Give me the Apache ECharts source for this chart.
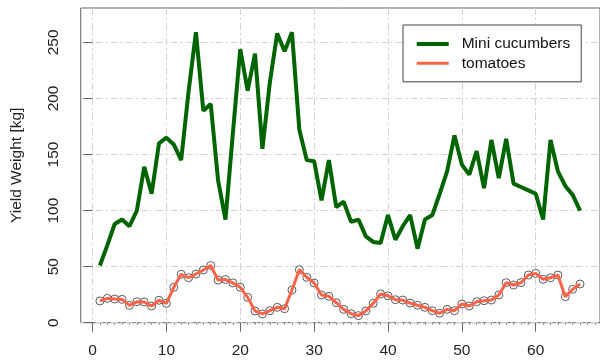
<!DOCTYPE html>
<html>
<head>
<meta charset="utf-8">
<script src="https://cdn.jsdelivr.net/npm/echarts@6/dist/echarts.min.js"></script>
<style>html,body{margin:0;padding:0;background:#fff;}#c{width:600px;height:361px;}</style>
</head>
<body>
<div id="c"></div>
<script>
const weeks = [1,2,3,4,5,6,7,8,9,10,11,12,13,14,15,16,17,18,19,20,21,22,23,24,25,26,27,28,29,30,31,32,33,34,35,36,37,38,39,40,41,42,43,44,45,46,47,48,49,50,51,52,53,54,55,56,57,58,59,60,61,62,63,64,65,66];
const cucumbers = [51,69,88,92,86,100,139,115,160,165,159,145,206,259,189,195,127,92,169,244,207,240,155,214,258,242,259,172,145,144,109,145,103,108,90,92,77,72,71,96,74,86,96,66,92,96,115,135,167,141,132,153,120,163,129,164,124,121,118,115,92,163,135,122,114,100];
const tomatoes = [19.4,21.7,21.1,20.8,15.5,18.7,18.5,14.9,20,17.3,31.6,43.2,40.1,43.4,47,51,38,38.5,35.5,31.6,22.6,10.5,7.8,10.7,13.7,12.5,29.2,47.3,40.5,35.4,24.7,23.5,17.8,11.9,8,6.3,10.5,17.3,25.6,24,20.5,20.2,17.5,15.6,13.7,10.7,8.4,11.9,10.7,16.7,14.9,18.7,19.6,20.2,24.7,35.7,33.6,35.7,42.5,44,38.7,40.1,42.5,23.2,29.8,34.5];
const xTicks = [0,10,20,30,40,50,60];
const yTicks = [0,50,100,150,200,250];
const seriesNames = ['Mini cucumbers','tomatoes'];
const yTitle = 'Yield Weight [kg]';

const minorX = [];
for (let i = 1; i <= 68; i++) { if (i % 10 !== 0) minorX.push(i); }

const font = 'Liberation Sans, Arial, sans-serif';
const axisGray = '#666';
const gridDash = {color:'#d3d3d3', width:1, type:[7,3,2,3]};

const chart = echarts.init(document.getElementById('c'), null, {renderer:'canvas'});
chart.setOption({
  animation:false,
  backgroundColor:'#fff',
  grid:{left:80.7, top:8, width:522, height:314.7, show:true, borderColor:axisGray, borderWidth:1, backgroundColor:'transparent'},
  xAxis:[{
    type:'value', min:-1.6, max:68.7, position:'bottom',
    axisLine:{show:false},
    axisTick:{show:true, length:9, inside:false, lineStyle:{color:axisGray, width:1}, customValues:xTicks},
    axisLabel:{show:true, customValues:xTicks, color:'#222', fontSize:15.5, fontFamily:font, margin:20},
    splitLine:{show:true, lineStyle:gridDash}
  },{
    type:'value', min:-1.6, max:68.7, position:'bottom', gridIndex:0,
    axisLine:{show:false},
    axisTick:{show:true, length:2, lineStyle:{color:'#888', width:1}, customValues:minorX},
    axisLabel:{show:false},
    splitLine:{show:false}
  }],
  yAxis:{
    type:'value', min:0, max:280.66,
    name:yTitle, nameLocation:'middle', nameGap:56,
    nameTextStyle:{color:'#222', fontSize:15.5, fontFamily:font},
    axisLine:{show:false},
    axisTick:{show:true, length:9, lineStyle:{color:axisGray, width:1}, customValues:yTicks},
    axisLabel:{show:true, customValues:yTicks, rotate:90, color:'#222', fontSize:15.5, fontFamily:font, margin:19},
    splitLine:{show:true, lineStyle:gridDash}
  },
  legend:{
    orient:'vertical', left:403, top:25,
    data:[
      {name:seriesNames[0], icon:'path://M0,0L32,0L32,4L0,4Z'},
      {name:seriesNames[1], icon:'path://M0,0L32,0L32,3L0,3Z'}
    ],
    itemWidth:32, itemHeight:16, itemGap:3.3,
    padding:[11,11,10.5,13.7],
    backgroundColor:'#fff', borderColor:'#444', borderWidth:1, borderRadius:0,
    textStyle:{color:'#111', fontSize:15.5, fontFamily:font, padding:[0,0,0,8]},
    selectedMode:false
  },
  series:[
    {
      name:seriesNames[0], type:'line', xAxisIndex:0,
      data:weeks.map((w,i)=>[w,cucumbers[i]]),
      symbol:'none', lineStyle:{color:'#006400', width:4}, itemStyle:{color:'#006400'}, z:3
    },
    {
      name:'tomato points', type:'scatter', xAxisIndex:0,
      data:weeks.map((w,i)=>[w,tomatoes[i]]),
      symbol:'circle', symbolSize:8,
      itemStyle:{color:'rgba(255,255,255,0)', borderColor:'#333', borderWidth:1}, z:2
    },
    {
      name:seriesNames[1], type:'line', xAxisIndex:0,
      data:weeks.map((w,i)=>[w,tomatoes[i]]),
      symbol:'none', lineStyle:{color:'#ff6347', width:3}, itemStyle:{color:'#ff6347'}, z:4
    }
  ]
});
</script>
</body>
</html>
